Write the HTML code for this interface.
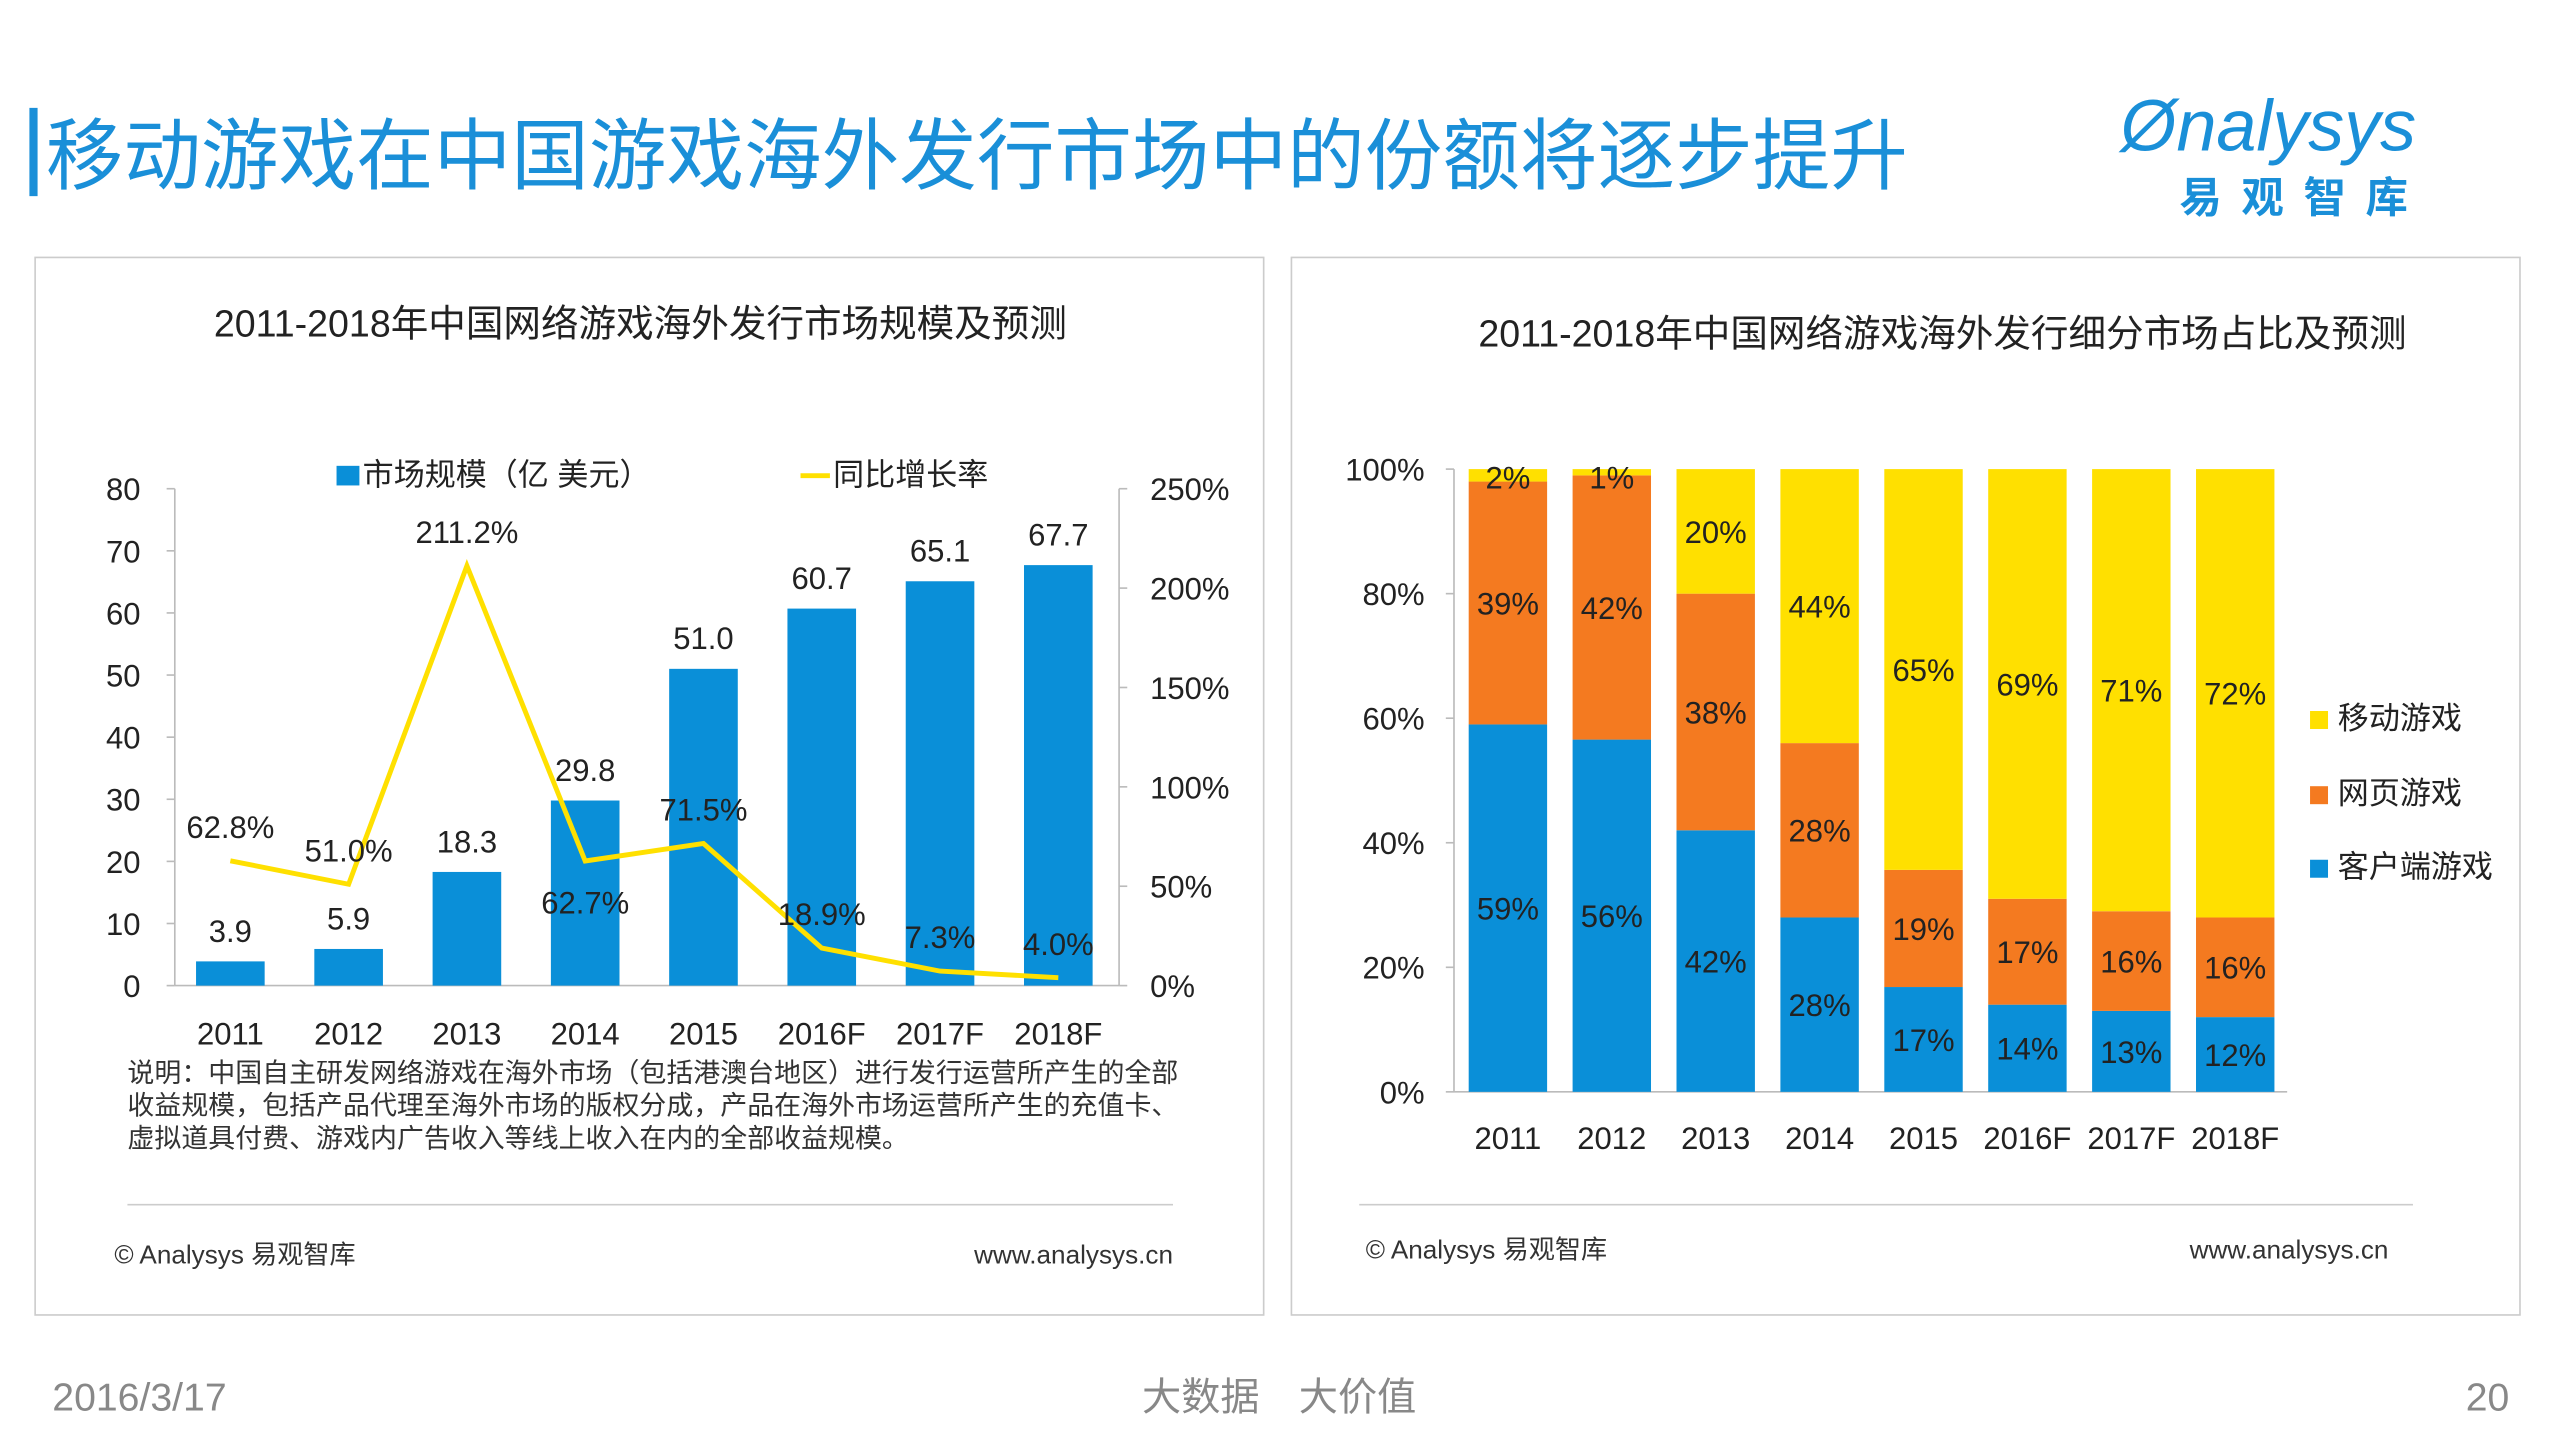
<!DOCTYPE html>
<html><head><meta charset="utf-8"><style>
html,body{margin:0;padding:0;background:#fff;width:2560px;height:1440px;overflow:hidden}
svg{display:block}
text{font-family:"Liberation Sans","Noto Sans CJK SC",sans-serif}
</style></head><body>
<svg id="s" width="2560" height="1440" viewBox="0 0 1567 881" preserveAspectRatio="none" xmlns="http://www.w3.org/2000/svg">
<rect x="18" y="66" width="5" height="54" fill="#1a8fd8"/>
<text x="28" y="112" font-size="47.5" fill="#1a8fd8">移动游戏在中国游戏海外发行市场中的份额将逐步提升</text>
<text x="1298" y="92" font-size="44" fill="#1a8fd8" font-style="italic">Ønalysys</text>
<text x="1334" y="130" font-size="26" fill="#1a8fd8" font-weight="bold" letter-spacing="12">易观智库</text>
<rect x="21.5" y="157.5" width="752" height="647" fill="none" stroke="#ccc"/>
<rect x="790.5" y="157.5" width="752" height="647" fill="none" stroke="#ccc"/>
<text x="392" y="206" font-size="23" text-anchor="middle" fill="#222">2011-2018年中国网络游戏海外发行市场规模及预测</text>
<text x="1189" y="212" font-size="23" text-anchor="middle" fill="#222">2011-2018年中国网络游戏海外发行细分市场占比及预测</text>
<g id="L"></g><g id="R"></g>
<text x="78" y="662" font-size="16.5" fill="#333">说明：中国自主研发网络游戏在海外市场（包括港澳台地区）进行发行运营所产生的全部</text>
<text x="78" y="682" font-size="16.5" fill="#333">收益规模，包括产品代理至海外市场的版权分成，产品在海外市场运营所产生的充值卡、</text>
<text x="78" y="702" font-size="16.5" fill="#333">虚拟道具付费、游戏内广告收入等线上收入在内的全部收益规模。</text>
<line x1="78" y1="737" x2="718" y2="737" stroke="#ccc"/>
<line x1="832" y1="737" x2="1477" y2="737" stroke="#ccc"/>
<text x="70" y="773" font-size="16" fill="#333">© Analysys 易观智库</text>
<text x="718" y="773" font-size="16" fill="#333" text-anchor="end">www.analysys.cn</text>
<text x="836" y="770" font-size="16" fill="#333">© Analysys 易观智库</text>
<text x="1462" y="770" font-size="16" fill="#333" text-anchor="end">www.analysys.cn</text>
<text x="32" y="863" font-size="24" fill="#888">2016/3/17</text>
<text x="783" y="863" font-size="24" fill="#888" text-anchor="middle">大数据　大价值</text>
<text x="1536" y="863" font-size="24" fill="#888" text-anchor="end">20</text>
</svg>
<script>
const years=["2011","2012","2013","2014","2015","2016F","2017F","2018F"];
const marketSize=[3.9,5.9,18.3,29.8,51.0,60.7,65.1,67.7];
const growthRate=[62.8,51.0,211.2,62.7,71.5,18.9,7.3,4.0];
const leftTicks=[0,10,20,30,40,50,60,70,80];
const rightTicks=[0,50,100,150,200,250];
const mobileShare=[2,1,20,44,65,69,71,72];
const webShare=[39,42,38,28,19,17,16,16];
const clientShare=[59,56,42,28,17,14,13,12];
const pctTicks=[0,20,40,60,80,100];

const NS="http://www.w3.org/2000/svg";
function mk(p,t,a,txt){const e=document.createElementNS(NS,t);for(const k in a)e.setAttribute(k,a[k]);if(txt!=null)e.textContent=txt;p.appendChild(e);return e;}
const BLUE="#0a8fd8",ORANGE="#f47a20",YELLOW="#ffe000";

const L=document.getElementById('L');
const yL=v=>603-v*3.8, yR=p=>603-p*1.216, xL=i=>141+i*72.4;
let e=mk(L,'line',{x1:107,y1:299,x2:107,y2:603,stroke:'#bbb'});

e=mk(L,'line',{x1:685,y1:299,x2:685,y2:603,stroke:'#bbb'});

e=mk(L,'line',{x1:107,y1:603,x2:685,y2:603,stroke:'#bbb'});

leftTicks.forEach(v=>{e=mk(L,'text',{x:86,y:yL(v)+7,'font-size':19,'text-anchor':'end',fill:'#222'},v);

mk(L,'line',{x1:102,y1:yL(v),x2:107,y2:yL(v),stroke:'#bbb'});});
rightTicks.forEach(v=>{e=mk(L,'text',{x:704,y:yR(v)+7,'font-size':19,fill:'#222'},v+'%');

mk(L,'line',{x1:685,y1:yR(v),x2:690,y2:yR(v),stroke:'#bbb'});});
years.forEach((y,i)=>{
e=mk(L,'rect',{x:xL(i)-21,y:yL(marketSize[i]),width:42,height:603-yL(marketSize[i]),fill:BLUE});

e=mk(L,'text',{x:xL(i),y:yL(marketSize[i])-12,'font-size':19,'text-anchor':'middle',fill:'#222'},marketSize[i].toFixed(1));

e=mk(L,'text',{x:xL(i),y:639,'font-size':19,'text-anchor':'middle',fill:'#222'},y);

});
e=mk(L,'polyline',{points:growthRate.map((g,i)=>xL(i)+','+yR(g)).join(' '),fill:'none',stroke:YELLOW,'stroke-width':3});

const gOff=[[0,-14],[0,-14],[0,-14],[0,32],[0,-14],[0,-14],[0,-14],[0,-14]];
growthRate.forEach((g,i)=>{e=mk(L,'text',{x:xL(i)+gOff[i][0],y:yR(g)+gOff[i][1],'font-size':19,'text-anchor':'middle',fill:'#222'},g.toFixed(1)+'%');
});
e=mk(L,'rect',{x:206,y:285,width:14,height:12,fill:BLUE});

e=mk(L,'text',{x:222,y:297,'font-size':19,fill:'#222'},'市场规模（亿 美元）');

e=mk(L,'line',{x1:490,y1:291,x2:508,y2:291,stroke:YELLOW,'stroke-width':3});

e=mk(L,'text',{x:510,y:297,'font-size':19,fill:'#222'},'同比增长率');


const R=document.getElementById('R');
const yP=p=>668-p*3.81, xR=i=>923+i*63.6;
e=mk(R,'line',{x1:890,y1:287,x2:890,y2:668,stroke:'#bbb'});

e=mk(R,'line',{x1:890,y1:668,x2:1400,y2:668,stroke:'#bbb'});

pctTicks.forEach(v=>{e=mk(R,'text',{x:872,y:yP(v)+7,'font-size':19,'text-anchor':'end',fill:'#222'},v+'%');

mk(R,'line',{x1:885,y1:yP(v),x2:890,y2:yP(v),stroke:'#bbb'});});
years.forEach((y,i)=>{
const tot=clientShare[i]+webShare[i]+mobileShare[i];
const segs=[[clientShare[i],BLUE,'client'],[webShare[i],ORANGE,'web'],[mobileShare[i],YELLOW,'mobile']];
let base=0;
segs.forEach(s=>{const v=s[0]/tot*100;
e=mk(R,'rect',{x:xR(i)-24,y:yP(base+v),width:48,height:v*3.81,fill:s[1]});

e=mk(R,'text',{x:xR(i),y:yP(base+v)+(v<5?12:v*3.81/2+7),'font-size':19,'text-anchor':'middle',fill:'#222'},s[0]+'%');

base+=v;});
e=mk(R,'text',{x:xR(i),y:703,'font-size':19,'text-anchor':'middle',fill:'#222'},y);

});
[['移动游戏',YELLOW,446],['网页游戏',ORANGE,492],['客户端游戏',BLUE,537]].forEach(l=>{
e=mk(R,'rect',{x:1414,y:l[2]-11,width:11,height:11,fill:l[1]});

e=mk(R,'text',{x:1431,y:l[2],'font-size':19,fill:'#222'},l[0]);

});
</script>
</body></html>
